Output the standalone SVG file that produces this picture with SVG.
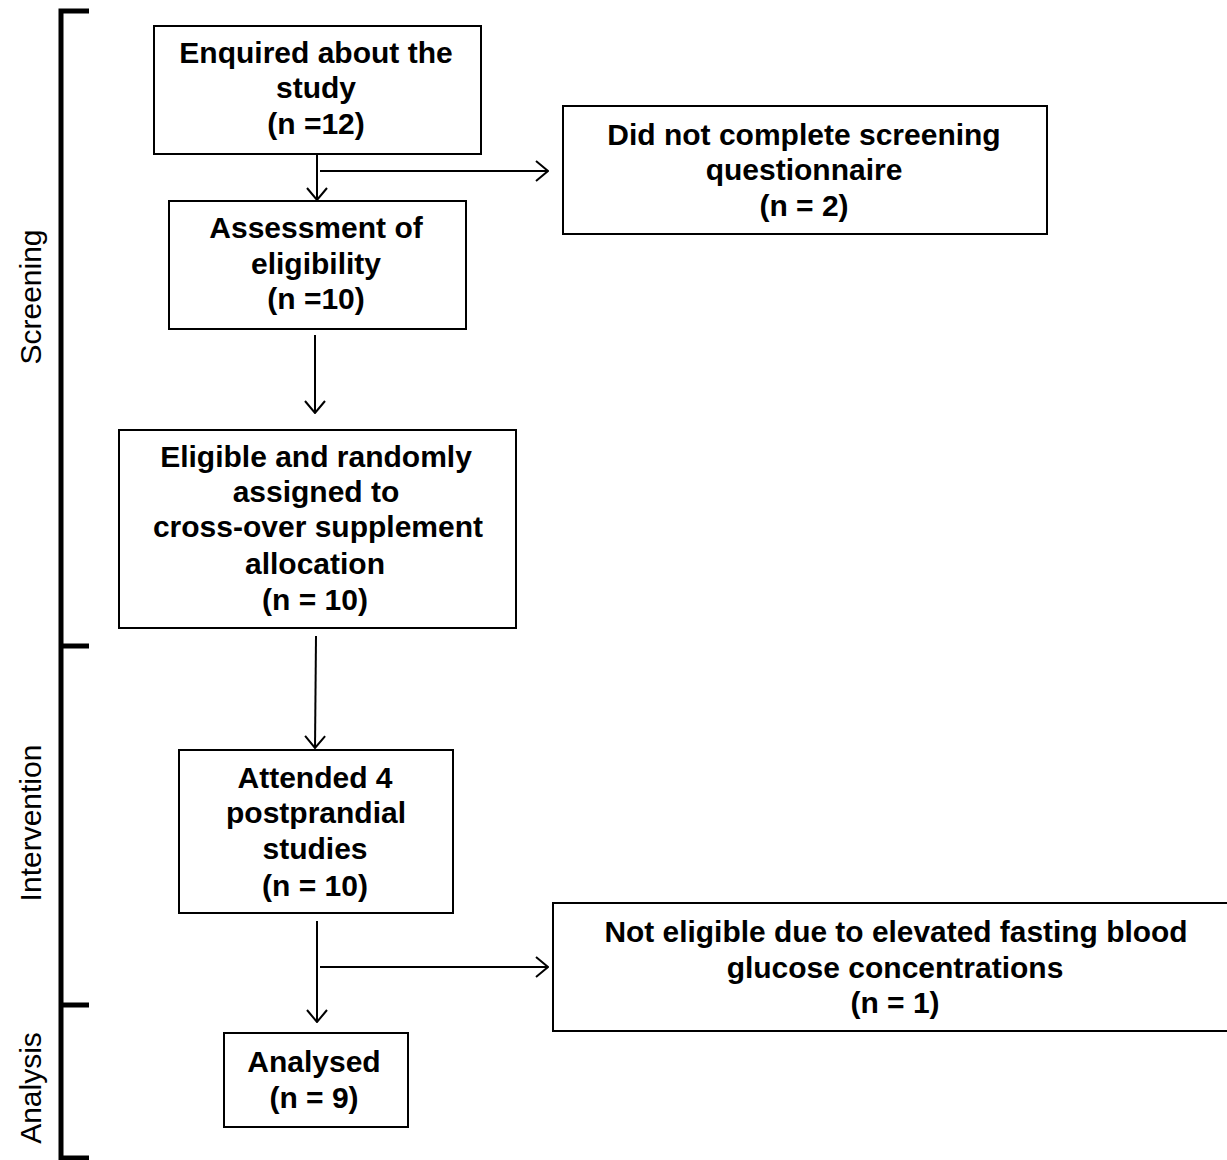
<svg xmlns="http://www.w3.org/2000/svg" width="1227" height="1160" viewBox="0 0 1227 1160">
<style>
.box{fill:#fff;stroke:#000;stroke-width:2}
.t{font-family:"Liberation Sans",Arial,sans-serif;font-weight:bold;font-size:30px;text-anchor:middle;fill:#000}
.side{font-family:"Liberation Sans",Arial,sans-serif;font-size:30px;text-anchor:middle;fill:#000}
.c{fill:none;stroke:#000;stroke-width:2}
.br{fill:none;stroke:#000;stroke-width:5}
</style>
<defs>
<marker id="ah" viewBox="0 0 14 22" refX="13" refY="11" markerWidth="14" markerHeight="22" markerUnits="userSpaceOnUse" orient="auto">
<path d="M1,1 L13,11 L1,21" fill="none" stroke="#000" stroke-width="2"/>
</marker>
</defs>
<rect width="1227" height="1160" fill="#fff"/>
<g id="bracket">
<path class="br" d="M89,11 H61 V1160"/>
<path class="br" d="M61,646 H89 M61,1005 H89 M61,1158 H89"/>
<text class="side" transform="translate(41,297) rotate(-90)">Screening</text>
<text class="side" transform="translate(41,823) rotate(-90)">Intervention</text>
<text class="side" transform="translate(41,1088) rotate(-90)">Analysis</text>
</g>
<g id="connectors">
<line class="c" x1="317" y1="154" x2="317" y2="200" marker-end="url(#ah)"/>
<line class="c" x1="320" y1="171" x2="548" y2="171" marker-end="url(#ah)"/>
<line class="c" x1="315" y1="335" x2="315" y2="413" marker-end="url(#ah)"/>
<line class="c" x1="316" y1="636" x2="315" y2="748" marker-end="url(#ah)"/>
<line class="c" x1="317" y1="921" x2="317" y2="1022" marker-end="url(#ah)"/>
<line class="c" x1="320" y1="967" x2="548" y2="967" marker-end="url(#ah)"/>
</g>
<g id="n1">
<rect class="box" x="154" y="26" width="327" height="128"/>
<text class="t" x="316" y="63">Enquired about the</text>
<text class="t" x="316" y="98">study</text>
<text class="t" x="316" y="134">(n =12)</text>
</g>
<g id="n2">
<rect class="box" x="563" y="106" width="484" height="128"/>
<text class="t" x="804" y="145">Did not complete screening</text>
<text class="t" x="804" y="180">questionnaire</text>
<text class="t" x="804" y="216">(n = 2)</text>
</g>
<g id="n3">
<rect class="box" x="169" y="201" width="297" height="128"/>
<text class="t" x="316" y="238">Assessment of</text>
<text class="t" x="316" y="274">eligibility</text>
<text class="t" x="316" y="309">(n =10)</text>
</g>
<g id="n4">
<rect class="box" x="119" y="430" width="397" height="198"/>
<text class="t" x="316" y="467">Eligible and randomly</text>
<text class="t" x="316" y="502">assigned to</text>
<text class="t" x="318" y="537">cross-over supplement</text>
<text class="t" x="315" y="574">allocation</text>
<text class="t" x="315" y="610">(n = 10)</text>
</g>
<g id="n5">
<rect class="box" x="179" y="750" width="274" height="163"/>
<text class="t" x="315" y="788">Attended 4</text>
<text class="t" x="316" y="823">postprandial</text>
<text class="t" x="315" y="859">studies</text>
<text class="t" x="315" y="896">(n = 10)</text>
</g>
<g id="n6">
<rect class="box" x="553" y="903" width="680" height="128"/>
<text class="t" x="896" y="942" textLength="583" lengthAdjust="spacingAndGlyphs">Not eligible due to elevated fasting blood</text>
<text class="t" x="895" y="978">glucose concentrations</text>
<text class="t" x="895" y="1013">(n = 1)</text>
</g>
<g id="n7">
<rect class="box" x="224" y="1033" width="184" height="94"/>
<text class="t" x="314" y="1072">Analysed</text>
<text class="t" x="314" y="1108">(n = 9)</text>
</g>
</svg>
